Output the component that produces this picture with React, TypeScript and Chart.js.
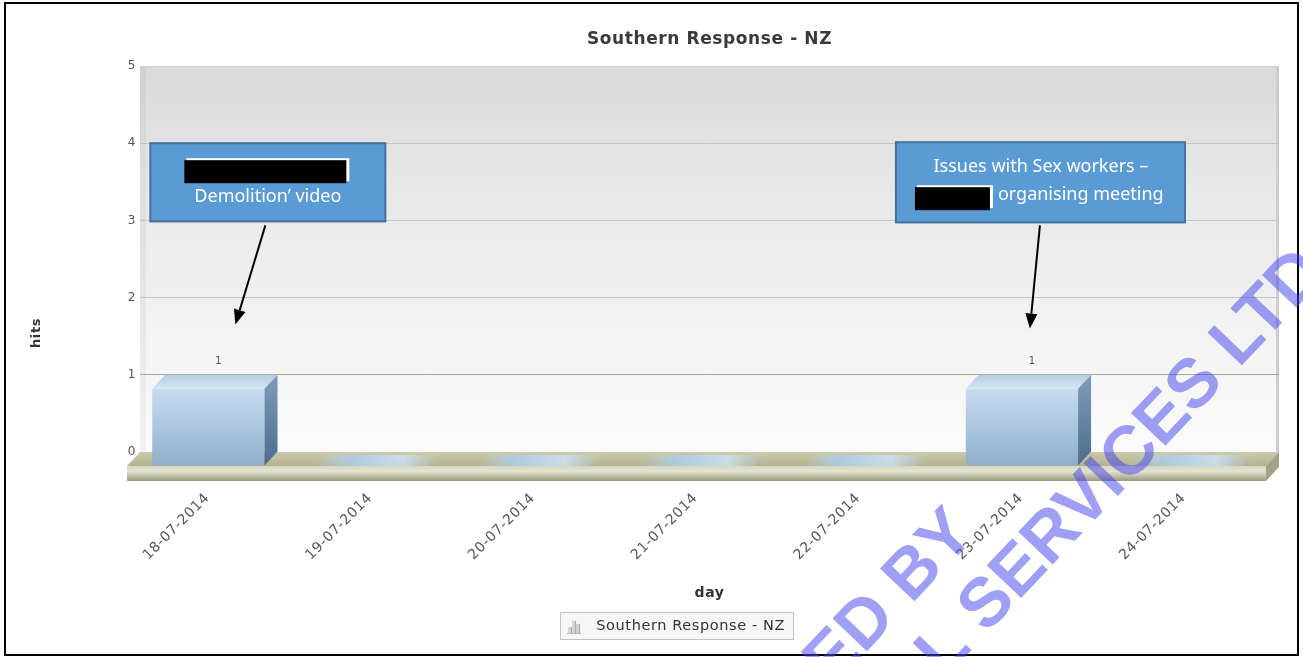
import React, { useEffect, useRef } from 'react';
import { Chart, registerables } from 'chart.js';

Chart.register(...registerables);

// ---------------- data ----------------
const CHART_TITLE = 'Southern Response - NZ';
const SERIES_LABEL = 'Southern Response - NZ';
const DAYS = ['18-07-2014', '19-07-2014', '20-07-2014', '21-07-2014', '22-07-2014', '23-07-2014', '24-07-2014'];
const HITS = [1, 0, 0, 0, 0, 1, 0];
const Y_TICKS = [0, 1, 2, 3, 4, 5];
const X_AXIS_TITLE = 'day';
const Y_AXIS_TITLE = 'hits';
const NOTE_1_LINES = ['Demolition’ video'];
const NOTE_2_LINES = ['Issues with Sex workers –', 'organising meeting'];
const NOTE_CATEGORIES = [0, 5];
const WATERMARK_LINES = ['ED BY', 'L SERVICES LTD'];

// ---------------- style ----------------
const FONT = '"DejaVu Sans", Verdana, sans-serif';
const NOTE_FONT = '"Noto Sans", "Open Sans", sans-serif';
const DX = 13;
const DY = 14;
const SPACING = '0.6px';

type Pt = [number, number];
function quad(ctx: CanvasRenderingContext2D, pts: Pt[], fill: any) {
  ctx.beginPath();
  ctx.moveTo(pts[0][0], pts[0][1]);
  for (let i = 1; i < pts.length; i++) ctx.lineTo(pts[i][0], pts[i][1]);
  ctx.closePath();
  ctx.fillStyle = fill;
  ctx.fill();
}

function arrow(ctx: CanvasRenderingContext2D, x0: number, y0: number, x1: number, y1: number) {
  const ang = Math.atan2(y1 - y0, x1 - x0);
  const len = 15;
  const hw = 6;
  const bx = x1 - Math.cos(ang) * len;
  const by = y1 - Math.sin(ang) * len;
  ctx.strokeStyle = '#000';
  ctx.lineWidth = 2;
  ctx.beginPath();
  ctx.moveTo(x0, y0);
  ctx.lineTo(bx, by);
  ctx.stroke();
  ctx.beginPath();
  ctx.moveTo(x1, y1);
  ctx.lineTo(bx + Math.sin(ang) * hw, by - Math.cos(ang) * hw);
  ctx.lineTo(bx - Math.sin(ang) * hw, by + Math.cos(ang) * hw);
  ctx.closePath();
  ctx.fillStyle = '#000';
  ctx.fill();
}

function noteBox(ctx: CanvasRenderingContext2D, x: number, y: number, w: number, h: number) {
  ctx.fillStyle = '#5b9bd5';
  ctx.fillRect(x, y, w, h);
  ctx.strokeStyle = '#41719c';
  ctx.lineWidth = 2;
  ctx.strokeRect(x, y, w, h);
}

function redact(ctx: CanvasRenderingContext2D, x: number, y: number, w: number, h: number) {
  ctx.fillStyle = '#ffffff';
  ctx.fillRect(x + 2, y - 2, w + 1, h);
  ctx.fillStyle = '#000000';
  ctx.fillRect(x, y, w, h);
}

function makeIcon(): HTMLCanvasElement {
  const c = document.createElement('canvas');
  c.width = 16;
  c.height = 16;
  const g = c.getContext('2d')!;
  const bars: number[][] = [[2, 9, 3, 6], [6, 3, 3, 12], [10, 6, 3, 9]];
  bars.forEach(([x, y, w, h]) => {
    g.fillStyle = '#d4d4d4';
    g.fillRect(x, y, w, h);
    g.fillStyle = '#a8a8a8';
    g.fillRect(x + w, y, 1, h);
  });
  g.fillStyle = '#b8b8b8';
  g.fillRect(1, 15, 14, 1);
  return c;
}

const spacingPlugin = {
  id: 'spacing',
  beforeUpdate(chart: any) { chart.ctx.letterSpacing = SPACING; },
  beforeLayout(chart: any) { chart.ctx.letterSpacing = SPACING; },
  beforeDraw(chart: any) { chart.ctx.letterSpacing = SPACING; },
};

const scenePlugin = {
  id: 'scene3d',
  beforeDraw(chart: any) {
    const { ctx, chartArea: ca } = chart;
    ctx.save();
    ctx.fillStyle = '#ffffff';
    ctx.fillRect(0, 0, chart.width, chart.height);
    // back wall
    const g = ctx.createLinearGradient(0, ca.top, 0, ca.bottom);
    g.addColorStop(0, '#d9d9d9');
    g.addColorStop(0.3, '#e7e7e7');
    g.addColorStop(0.7, '#f3f3f3');
    g.addColorStop(1, '#fbfbfb');
    ctx.fillStyle = g;
    ctx.fillRect(ca.left, ca.top, ca.right - ca.left, ca.bottom - ca.top);
    ctx.fillStyle = 'rgba(0,0,0,0.04)';
    ctx.fillRect(ca.left, ca.top, 6, ca.bottom - ca.top);
    ctx.fillStyle = '#cdcdcd';
    ctx.fillRect(ca.right - 3, ca.top, 3, ca.bottom - ca.top + 8);
    // legend frame
    const lg = chart.legend;
    if (lg && lg.legendHitBoxes && lg.legendHitBoxes.length) {
      const hb = lg.legendHitBoxes[0];
      const cy = hb.top + hb.height / 2;
      ctx.fillStyle = '#f6f6f6';
      ctx.fillRect(hb.left + 1, cy - 14, hb.width + 8, 28);
      ctx.strokeStyle = '#c2c2c2';
      ctx.lineWidth = 1;
      ctx.strokeRect(hb.left + 1.5, cy - 13.5, hb.width + 7, 27);
    }
    ctx.restore();
  },
  beforeDatasetsDraw(chart: any) {
    const { ctx, chartArea: ca } = chart;
    const y0 = chart.scales.y.getPixelForValue(0);
    const L = ca.left;
    const R = ca.right;
    ctx.save();
    const gTop = ctx.createLinearGradient(0, y0, 0, y0 + DY);
    gTop.addColorStop(0, '#cbcaac');
    gTop.addColorStop(1, '#b2b190');
    quad(ctx, [[L, y0], [R, y0], [R - DX, y0 + DY], [L - DX, y0 + DY]], gTop);
    const gF = ctx.createLinearGradient(0, y0 + DY, 0, y0 + DY + 15);
    gF.addColorStop(0, '#d6d6bf');
    gF.addColorStop(0.35, '#e4e4d3');
    gF.addColorStop(1, '#9a9a7b');
    quad(ctx, [[L - DX, y0 + DY], [R - DX, y0 + DY], [R - DX, y0 + DY + 15], [L - DX, y0 + DY + 15]], gF);
    quad(ctx, [[R - DX, y0 + DY], [R, y0], [R, y0 + 15], [R - DX, y0 + DY + 15]], '#a3a285');
    // flat (zero) bars show as a blue sheen on the floor
    const meta = chart.getDatasetMeta(0);
    const vals = chart.data.datasets[0].data;
    meta.data.forEach((el: any, i: number) => {
      if (vals[i] !== 0) return;
      const { x, width } = el.getProps(['x', 'width'], true);
      const x0 = x - width / 2;
      const x1 = x + width / 2;
      const gr = ctx.createLinearGradient(x0 - DX, 0, x1, 0);
      gr.addColorStop(0, 'rgba(185,212,236,0)');
      gr.addColorStop(0.3, 'rgba(172,206,236,0.85)');
      gr.addColorStop(0.7, 'rgba(205,226,244,0.85)');
      gr.addColorStop(1, 'rgba(190,215,235,0)');
      quad(ctx, [[x0, y0 + 3], [x1, y0 + 3], [x1 - DX, y0 + DY], [x0 - DX, y0 + DY]], gr);
    });
    ctx.restore();
    ctx.save();
    ctx.translate(-DX, DY);
  },
  afterDatasetsDraw(chart: any) {
    const { ctx } = chart;
    ctx.restore();
    ctx.save();
    const meta = chart.getDatasetMeta(0);
    const vals = chart.data.datasets[0].data;
    meta.data.forEach((el: any, i: number) => {
      const v = vals[i];
      if (!v) return;
      const { x, y, base, width } = el.getProps(['x', 'y', 'base', 'width'], true);
      const x0 = x - width / 2;
      const x1 = x + width / 2;
      const gt = ctx.createLinearGradient(0, y, 0, y + DY);
      gt.addColorStop(0, '#b3cde4');
      gt.addColorStop(1, '#d3e5f4');
      quad(ctx, [[x0 - DX, y + DY], [x1 - DX, y + DY], [x1, y], [x0, y]], gt);
      const gs = ctx.createLinearGradient(0, y, 0, base + DY);
      gs.addColorStop(0, '#7f9dba');
      gs.addColorStop(1, '#4d6b8b');
      quad(ctx, [[x1 - DX, y + DY], [x1, y], [x1, base], [x1 - DX, base + DY]], gs);
      ctx.letterSpacing = '0px';
      ctx.fillStyle = '#555555';
      ctx.font = `10px ${FONT}`;
      ctx.textAlign = 'center';
      ctx.textBaseline = 'middle';
      ctx.fillText(String(v), x - 3, y - 13);
    });
    ctx.restore();
  },
  afterDraw(chart: any) {
    const { ctx } = chart;
    const xs = chart.scales.x;
    const ys = chart.scales.y;
    ctx.save();
    ctx.strokeStyle = '#000';
    ctx.lineWidth = 2;
    ctx.strokeRect(5, 3, 1293, 652);

    // y-axis title
    ctx.letterSpacing = SPACING;
    ctx.fillStyle = '#333333';
    ctx.font = `bold 13px ${FONT}`;
    ctx.textAlign = 'center';
    ctx.textBaseline = 'middle';
    ctx.save();
    ctx.translate(37, 333);
    ctx.rotate(-Math.PI / 2);
    ctx.fillText(Y_AXIS_TITLE, 0, 0);
    ctx.restore();

    // call-outs
    ctx.letterSpacing = '0px';
    const c0 = xs.getPixelForValue(NOTE_CATEGORIES[0]);
    const c1 = xs.getPixelForValue(NOTE_CATEGORIES[1]);
    const top = ys.getPixelForValue(4);
    const bot = ys.getPixelForValue(3);
    arrow(ctx, c0 + 44, bot + 5, c0 + 14, ys.getPixelForValue(1.65));
    arrow(ctx, c1 + 5, bot + 5, c1 - 5, ys.getPixelForValue(1.6));

    const b1x = c0 - 71;
    noteBox(ctx, b1x, top, 235, bot - top + 1);
    redact(ctx, b1x + 34, top + 17, 162, 23);
    ctx.fillStyle = '#ffffff';
    ctx.font = `18px ${NOTE_FONT}`;
    ctx.textAlign = 'center';
    ctx.textBaseline = 'middle';
    ctx.fillText(NOTE_1_LINES[0], b1x + 117.5, top + 54);

    const b2x = c1 - 139;
    noteBox(ctx, b2x, top - 1, 289, bot - top + 3);
    ctx.fillStyle = '#ffffff';
    ctx.textAlign = 'center';
    ctx.fillText(NOTE_2_LINES[0], b2x + 145, top + 24);
    redact(ctx, b2x + 19, top + 44, 75, 23);
    ctx.fillStyle = '#ffffff';
    ctx.textAlign = 'left';
    ctx.fillText(NOTE_2_LINES[1], b2x + 102, top + 52);

    // watermark
    ctx.fillStyle = 'rgba(70,70,235,0.52)';
    ctx.font = 'bold 69px "Liberation Sans", Arial, sans-serif';
    ctx.textAlign = 'left';
    ctx.textBaseline = 'alphabetic';
    const ang = (-46.5 * Math.PI) / 180;
    const starts: Pt[] = [[832, 688], [944, 679]];
    starts.forEach(([x, y], i) => {
      ctx.save();
      ctx.translate(x, y);
      ctx.rotate(ang);
      ctx.fillText(WATERMARK_LINES[i], 0, 0);
      ctx.restore();
    });
    ctx.restore();
  },
};

export default function App() {
  const ref = useRef<HTMLCanvasElement>(null);
  useEffect(() => {
    document.body.style.margin = '0';
    const canvas = ref.current!;
    const icon = makeIcon();
    const chart = new Chart(canvas, {
      type: 'bar',
      data: {
        labels: DAYS,
        datasets: [
          {
            label: SERIES_LABEL,
            data: HITS,
            clip: false as any,
            categoryPercentage: 1,
            barPercentage: 0.69,
            borderWidth: 0,
            backgroundColor: (c: any) => {
              const ch = c.chart;
              if (!ch.chartArea) return '#a9c4de';
              const ys = ch.scales.y;
              const g = ch.ctx.createLinearGradient(0, ys.getPixelForValue(1), 0, ys.getPixelForValue(0));
              g.addColorStop(0, '#c6dcf0');
              g.addColorStop(0.5, '#abc6df');
              g.addColorStop(1, '#90acc8');
              return g;
            },
          },
        ],
      },
      options: {
        responsive: false,
        animation: false,
        devicePixelRatio: 1,
        layout: { padding: { left: 65, right: 24, top: 0, bottom: 13.75 } },
        scales: {
          x: {
            offset: true,
            grid: { display: false, drawTicks: false },
            border: { display: false },
            ticks: {
              autoSkip: false,
              minRotation: 45,
              maxRotation: 45,
              padding: 38,
              labelOffset: -14,
              color: '#555555',
              font: { family: FONT, size: 14 },
            },
            title: {
              display: true,
              text: X_AXIS_TITLE,
              color: '#333333',
              font: { family: FONT, size: 14, weight: 'bold' },
              padding: { top: 4, bottom: 7 },
            },
            afterFit: (scale: any) => {
              const lh = scale.chart.legend ? scale.chart.legend.height : 34.5;
              scale.height = scale.chart.height - 13.75 - lh - 452;
            },
          },
          y: {
            min: 0,
            max: 5,
            grid: {
              drawTicks: false,
              color: (c: any) => {
                const v = c.tick ? c.tick.value : -1;
                if (v === 0) return 'rgba(0,0,0,0)';
                if (v === 1) return '#a3a893';
                if (v === 5) return '#d0d0d0';
                return '#c4c4c4';
              },
            },
            border: { display: false },
            ticks: {
              padding: 4,
              color: '#555555',
              font: { family: FONT, size: 12 },
            },
            afterBuildTicks: (scale: any) => {
              scale.ticks = Y_TICKS.map((v) => ({ value: v }));
            },
            afterFit: (scale: any) => {
              scale.width = 75;
            },
          },
        },
        plugins: {
          title: {
            display: true,
            text: CHART_TITLE,
            fullSize: false,
            color: '#3a3a3a',
            font: { family: FONT, size: 17, weight: 'bold' },
            padding: { top: 29, bottom: 16.6 },
          },
          legend: {
            display: true,
            position: 'bottom',
            fullSize: true,
            labels: {
              usePointStyle: true,
              pointStyle: icon as any,
              pointStyleWidth: 30,
              color: '#333333',
              padding: 10,
              font: { family: FONT, size: 14.5 },
            },
          },
          tooltip: { enabled: false },
        },
      } as any,
      plugins: [spacingPlugin, scenePlugin],
    });
    return () => chart.destroy();
  }, []);
  return (
    <div style={{ width: 1303, height: 657, overflow: 'hidden' }}>
      <canvas ref={ref} width={1303} height={657} style={{ display: 'block' }} />
    </div>
  );
}
